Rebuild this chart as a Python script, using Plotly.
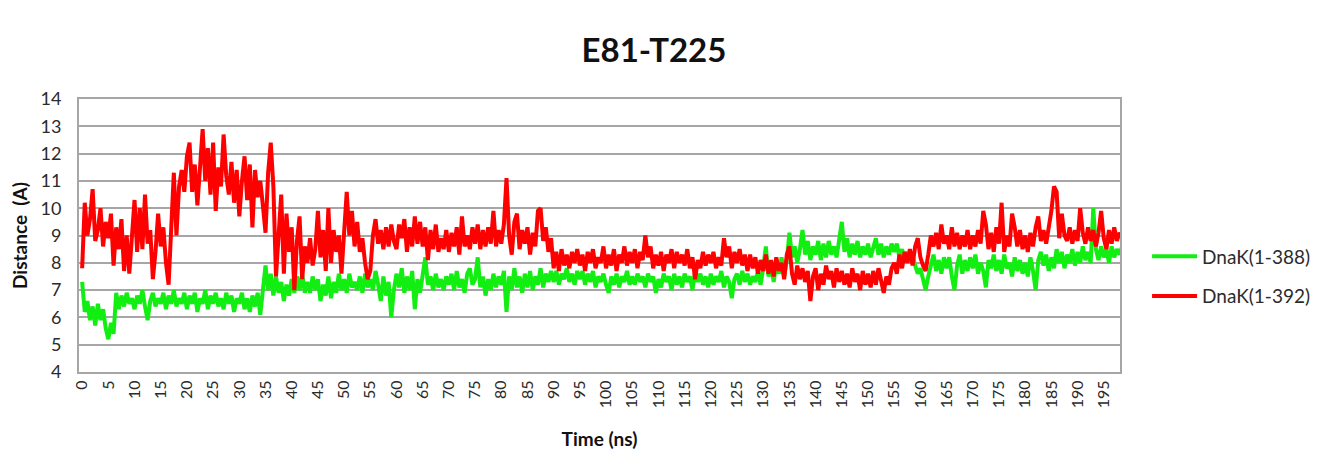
import numpy as np
import plotly.graph_objects as go

# time axis (ns), one sample every 0.5 ns
time_ns = np.arange(0, 200, 0.5)

dnak_388 = [
    7.3, 6.2, 6.6, 5.9, 6.4, 5.7, 6.5, 5.9, 6.3, 5.6,
    5.2, 5.8, 5.4, 6.9, 6.3, 6.8, 6.4, 6.9, 6.5, 6.7,
    6.3, 6.8, 6.5, 7.0, 6.4, 5.9, 6.6, 6.9, 6.4, 6.7,
    6.5, 6.9, 6.3, 6.8, 6.5, 7.0, 6.4, 6.7, 6.5, 6.9,
    6.3, 6.8, 6.5, 6.9, 6.2, 6.7, 6.5, 7.0, 6.3, 6.8,
    6.5, 6.9, 6.4, 6.7, 6.3, 6.9, 6.5, 6.8, 6.2, 6.7,
    6.5, 6.9, 6.3, 6.7, 6.2, 6.8, 6.4, 6.9, 6.1, 7.2,
    7.9, 7.0, 7.6, 6.8, 7.5, 6.9, 7.3, 6.6, 7.2, 6.8,
    7.4, 6.9, 7.5, 7.0, 7.6, 6.9, 7.3, 6.9, 7.5, 7.0,
    7.4, 6.6, 7.2, 6.8, 7.5, 6.7, 7.3, 6.9, 7.6, 7.0,
    7.4, 6.9, 7.6, 7.1, 7.3, 7.0, 7.5, 6.9, 7.6, 7.1,
    7.4, 7.0, 7.7, 7.2, 6.6, 7.5, 6.8, 7.3, 6.0, 7.0,
    7.6, 7.1, 7.8, 6.9, 7.5, 7.0, 7.7, 6.3, 7.4, 6.9,
    7.6, 8.2, 7.2, 7.5, 7.0, 7.6, 7.1, 7.4, 7.0, 7.5,
    7.2, 7.6, 7.0, 7.7, 7.1, 7.4, 6.9, 7.6, 7.8, 7.2,
    7.4, 8.2, 7.1, 7.5, 6.8, 7.4, 7.0, 7.6, 7.1, 7.5,
    7.2, 7.7, 6.2, 7.5, 7.0, 7.8, 7.1, 7.5, 6.9, 7.6,
    7.1, 7.7, 7.0, 7.5, 7.2, 7.8, 7.1, 7.6, 7.3, 7.7,
    7.3, 7.7, 7.2, 7.6, 7.4, 7.8, 7.3, 7.6, 7.2, 7.7,
    7.4, 7.7, 7.2, 7.6, 7.3, 7.7, 7.1, 7.5, 7.3, 7.6,
    7.2, 6.9, 7.5, 7.2, 7.6, 7.1, 7.5, 7.3, 7.7, 7.2,
    7.5, 7.2, 7.6, 7.3, 7.5, 7.1, 7.6, 7.3, 7.5, 6.9,
    7.4, 7.1, 7.6, 7.3, 7.5, 7.0, 7.6, 7.2, 7.5, 7.1,
    7.6, 7.3, 7.5, 7.0, 7.7, 7.3, 7.6, 7.2, 7.5, 7.1,
    7.6, 7.2, 7.5, 7.3, 7.7, 7.1, 7.5, 7.3, 6.7, 7.4,
    7.6, 7.2, 7.7, 7.3, 7.6, 7.2, 7.5, 7.3, 7.7, 7.2,
    7.8, 8.6, 7.5, 7.9, 7.3, 8.0, 7.6, 8.2, 7.5, 8.1,
    9.1, 8.2, 8.6, 8.0, 8.5, 9.2, 8.3, 8.8, 8.1, 8.6,
    8.3, 8.8, 8.1, 8.7, 8.2, 8.8, 8.3, 8.6, 8.2, 8.9,
    9.5, 8.4, 8.9, 8.2, 8.7, 8.3, 8.8, 8.2, 8.6, 8.3,
    8.7, 8.2, 8.6, 8.9, 8.3, 8.7, 8.2, 8.6, 8.3, 8.7,
    8.4, 8.7, 8.2, 8.5, 8.1, 8.4, 8.0, 8.3, 7.9, 7.6,
    7.8, 7.4, 7.0, 7.5, 7.9, 8.3, 7.7, 8.1, 7.6, 8.2,
    7.8, 8.2, 7.5, 7.0, 7.9, 8.3, 7.6, 8.1, 7.7, 8.2,
    7.8, 8.3, 7.6, 8.0, 7.7, 7.1, 8.1, 7.8, 8.3, 7.7,
    8.1, 7.6, 8.3, 7.8, 8.0, 7.5, 8.2, 7.7, 8.1, 7.6,
    8.0, 7.5, 8.2, 7.7, 7.0, 8.1, 8.4, 7.9, 8.3, 7.7,
    8.2, 7.8, 8.5, 8.0, 8.4, 7.8, 8.3, 8.0, 8.5, 7.9,
    8.4, 8.0, 8.6, 8.1, 8.4, 8.0, 10.0, 8.5, 8.1, 8.6,
    8.2, 8.5, 8.0, 8.6, 8.2, 8.5, 8.3, 8.6, 8.3, 8.5,
]

dnak_392 = [
    7.8, 10.2, 9.0, 9.6, 10.7, 8.8, 9.2, 10.0, 8.6, 9.5,
    8.9, 9.8, 7.9, 9.3, 8.5, 9.6, 7.7, 9.0, 7.6, 8.8,
    10.3, 8.4, 10.0, 8.5, 10.5, 8.7, 9.2, 7.4, 8.4, 9.8,
    8.6, 9.3, 8.0, 7.2, 9.5, 11.3, 9.0, 10.8, 11.4, 10.6,
    11.9, 12.4, 10.6, 11.6, 10.1, 11.8, 12.9, 11.0, 12.2, 10.5,
    12.4, 9.9, 11.5, 10.8, 12.7, 11.2, 10.5, 11.7, 10.2, 11.4,
    9.7, 11.0, 11.9, 10.3, 11.6, 9.3, 11.4, 10.4, 11.0, 10.1,
    9.1, 11.3, 12.4, 10.8, 7.5, 9.0, 10.5, 7.6, 9.8, 8.4,
    9.3, 7.0, 8.8, 9.7, 7.4, 8.6, 8.0, 8.9, 7.9, 8.5,
    9.9, 8.2, 9.2, 7.7, 10.0, 8.0, 9.2, 8.4, 9.0, 7.6,
    9.2, 10.6, 9.0, 9.9, 8.6, 9.5, 8.4, 8.9, 8.0, 7.4,
    7.7, 9.0, 9.6, 8.7, 9.2, 8.5, 9.3, 8.6, 9.4, 8.8,
    8.5, 9.4, 8.9, 9.6, 8.4, 9.3, 8.6, 9.7, 8.7, 9.5,
    8.6, 9.3, 8.1, 9.2, 8.5, 9.4, 8.4, 8.9, 8.5, 9.2,
    8.4, 9.1, 8.6, 9.3, 8.3, 9.7, 8.6, 9.0, 8.5, 9.3,
    8.7, 9.4, 8.5, 9.2, 8.6, 9.3, 8.7, 9.9, 8.6, 9.2,
    8.7, 9.4, 11.1, 9.0, 8.3, 9.5, 9.8, 8.5, 9.2, 8.7,
    9.3, 8.3, 9.1, 8.6, 9.9, 10.0, 8.8, 9.3, 8.4, 8.9,
    7.8, 8.4, 7.7, 8.5, 7.9, 8.3, 7.8, 8.4, 8.0, 8.5,
    7.9, 8.3, 7.7, 8.4, 8.0, 8.5, 7.8, 8.2, 8.0, 8.6,
    7.8, 8.3, 7.9, 8.5, 7.7, 8.3, 8.0, 8.6, 7.9, 8.4,
    8.0, 8.5, 7.8, 8.4, 8.1, 9.0, 8.2, 8.6, 7.8, 8.3,
    7.9, 8.4, 7.7, 8.3, 8.0, 8.5, 7.8, 8.4, 8.0, 8.3,
    7.9, 8.5, 7.8, 8.2, 7.4, 8.1, 7.8, 8.4, 7.9, 8.3,
    8.0, 8.4, 7.8, 8.2, 7.9, 8.9, 8.2, 8.6, 7.8, 8.4,
    8.0, 8.5, 7.9, 8.3, 7.7, 8.3, 7.8, 8.2, 7.6, 8.1,
    7.7, 8.3, 7.6, 8.1, 7.5, 8.2, 7.7, 8.0, 7.4, 8.3,
    8.6, 7.6, 7.2, 7.9, 7.4, 7.8, 7.3, 7.7, 6.6, 7.5,
    7.8, 7.0, 7.6, 7.2, 7.9, 7.4, 7.7, 7.1, 7.8, 7.3,
    7.7, 7.2, 7.6, 7.1, 7.8, 7.3, 7.6, 7.0, 7.7, 7.2,
    7.6, 7.1, 7.7, 7.2, 7.8, 7.3, 6.9, 7.5, 7.2, 7.8,
    8.0, 7.6, 8.3, 7.8, 8.4, 8.0, 8.5, 7.9, 8.6, 8.9,
    8.2, 7.9, 7.7, 8.3, 9.0, 8.6, 9.1, 8.5, 9.4, 8.7,
    9.0, 8.5, 9.3, 8.6, 9.1, 8.5, 9.0, 8.6, 9.2, 8.5,
    9.0, 8.6, 9.2, 8.7, 9.9, 9.4, 8.5, 9.1, 8.4, 9.3,
    8.7, 10.2, 8.4, 9.0, 8.6, 9.8, 9.3, 8.6, 9.2, 8.5,
    9.0, 8.4, 9.1, 8.6, 9.3, 9.7, 8.8, 9.2, 8.7, 9.3,
    9.9, 10.8, 10.6, 8.9, 9.8, 9.0, 8.8, 9.3, 8.7, 9.2,
    8.8, 10.0, 9.1, 8.7, 9.3, 8.8, 9.2, 8.6, 9.1, 9.9,
    8.9, 8.5, 9.2, 8.7, 9.3, 8.8, 9.1, 8.9, 9.0, 8.9,
]

series_names = ["DnaK(1-388)", "DnaK(1-392)"]
series_colors = ["#12EE12", "#FF0000"]
x_tick_vals = list(range(0, 200, 5))
x_tick_text = [str(v) for v in x_tick_vals]
y_tick_vals = list(range(4, 15))

FONT = "Lato"
TXT = "#2b2b2b"

fig = go.Figure()
for i, (name, vals) in enumerate(zip(series_names, [dnak_388, dnak_392])):
    fig.add_trace(go.Scatter(
        x=time_ns, y=vals, mode="lines", name=name,
        line=dict(color=series_colors[i], width=4),
        legendgroup=name,
    ))

# page is shown with an 8px body margin, so the figure is 8px smaller
fig.update_layout(
    width=1313, height=444,
    margin=dict(l=71, r=201, t=91, b=80, autoexpand=False),
    paper_bgcolor="white", plot_bgcolor="white",
    font=dict(family=FONT, color=TXT, size=15),
    title=dict(text="<b>E81-T225</b>", x=0.492, xanchor="center",
               y=0.905, yanchor="middle",
               font=dict(family=FONT, size=33, color="#111111")),
    showlegend=True,
    legend=dict(x=1.026, y=0.35, xanchor="left", yanchor="middle",
                font=dict(family=FONT, size=19, color=TXT),
                itemwidth=45,
                tracegroupgap=12, bgcolor="rgba(0,0,0,0)"),
    xaxis=dict(
        range=[-0.6, 198.1], tickmode="array",
        tickvals=x_tick_vals, ticktext=x_tick_text, tickangle=-90,
        tickfont=dict(family=FONT, size=16, color=TXT),
        showgrid=False, zeroline=False,
        showline=True, linecolor="#a6a6a6", linewidth=2, mirror=True,
        ticks="", title=dict(text="<b>Time (ns)</b>", standoff=25,
                             font=dict(family=FONT, size=19, color="#111111")),
    ),
    yaxis=dict(
        range=[4, 14], tickmode="array", tickvals=y_tick_vals,
        tickfont=dict(family=FONT, size=18, color=TXT),
        showgrid=True, gridcolor="#a6a6a6", gridwidth=2,
        zeroline=False, showline=True, linecolor="#a6a6a6", linewidth=2,
        mirror=True, ticks="", ticklabelstandoff=12,
        title=dict(text="<b>Distance  (A)</b>", standoff=14,
                   font=dict(family=FONT, size=19, color="#111111")),
    ),
)

fig.write_html("out.html")
